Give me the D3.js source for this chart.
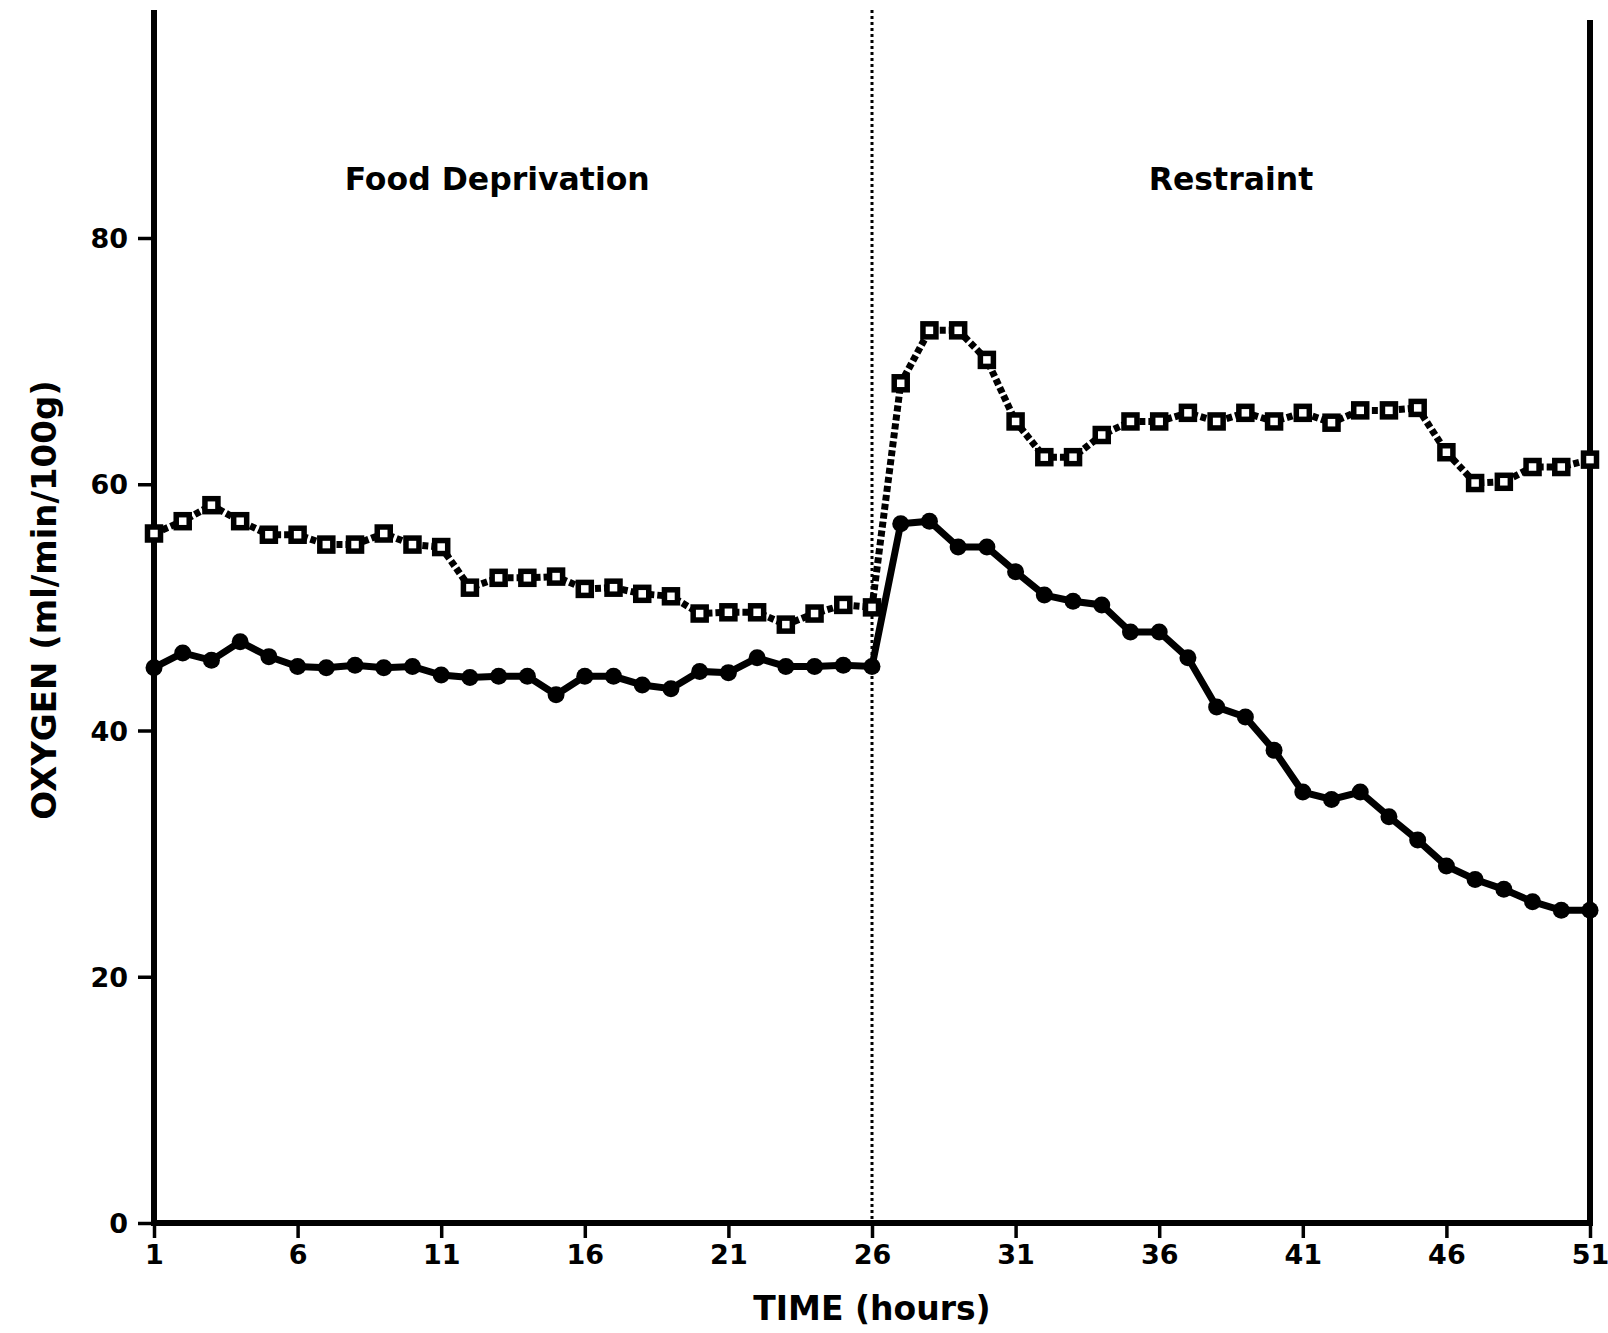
<!DOCTYPE html>
<html>
<head>
    <meta charset="utf-8">
    <script src="https://d3js.org/d3.v7.min.js"></script>
    <style>
        body { margin: 0; background: #fff; }
        text { font-family: "DejaVu Sans", sans-serif; font-weight: bold; fill: #000; }
    </style>
</head>
<body>
    <svg id="chart"></svg>
    <script>
        // hours 1..51
        var hours = d3.range(1, 52);

        // upper series (open squares, dotted line)
        var upperValues = [56.0, 57.0, 58.3, 57.0, 55.9, 55.9, 55.1, 55.1, 56.0, 55.1,
                           54.9, 51.6, 52.4, 52.4, 52.5, 51.5, 51.6, 51.1, 50.9, 49.5,
                           49.6, 49.6, 48.6, 49.5, 50.2, 50.0, 68.2, 72.5, 72.5, 70.1,
                           65.1, 62.2, 62.2, 64.0, 65.1, 65.1, 65.8, 65.1, 65.8, 65.1,
                           65.8, 65.0, 66.0, 66.0, 66.2, 62.6, 60.1, 60.2, 61.4, 61.4,
                           62.0];

        // lower series (filled circles, solid line)
        var lowerValues = [45.1, 46.3, 45.7, 47.2, 46.0, 45.2, 45.1, 45.3, 45.1, 45.2,
                           44.5, 44.3, 44.4, 44.4, 42.9, 44.4, 44.4, 43.7, 43.4, 44.8,
                           44.7, 45.9, 45.2, 45.2, 45.3, 45.2, 56.8, 57.0, 54.9, 54.9,
                           52.9, 51.0, 50.5, 50.2, 48.0, 48.0, 45.9, 41.9, 41.1, 38.4,
                           35.0, 34.4, 35.0, 33.0, 31.1, 29.0, 27.9, 27.1, 26.1, 25.4,
                           25.4];

        var xTicks = [1, 6, 11, 16, 21, 26, 31, 36, 41, 46, 51];
        var yTicks = [0, 20, 40, 60, 80];
        var phaseLabels = [{ text: "Food Deprivation", at: 12.95 }, { text: "Restraint", at: 38.5 }];
        var switchHour = 26;

        var W = 1608, H = 1333;
        var svg = d3.select("#chart").attr("width", W).attr("height", H);

        var x = d3.scaleLinear().domain([1, 51]).range([154, 1590]);
        var y = d3.scaleLinear().domain([0, 80]).range([1223, 238]);
        var topY = 10;

        // x axis
        var xAxis = svg.append("g")
            .attr("transform", "translate(0," + y(0) + ")")
            .call(d3.axisBottom(x).tickValues(xTicks).tickSize(15).tickPadding(7).tickFormat(d3.format("d")));
        xAxis.select(".domain").remove();
        xAxis.selectAll(".tick line").attr("stroke", "#000").attr("stroke-width", 3.5);
        xAxis.selectAll(".tick text").style("font-size", "27px");

        // y axis
        var yAxis = svg.append("g")
            .attr("transform", "translate(" + x(1) + ",0)")
            .call(d3.axisLeft(y).tickValues(yTicks).tickSize(16).tickPadding(10));
        yAxis.select(".domain").remove();
        yAxis.selectAll(".tick line").attr("stroke", "#000").attr("stroke-width", 3.5);
        yAxis.selectAll(".tick text").style("font-size", "27px").attr("dy", "0.36em");

        // frame lines
        svg.append("line").attr("x1", x(1) - 2).attr("x2", x(51) + 2).attr("y1", y(0)).attr("y2", y(0))
            .attr("stroke", "#000").attr("stroke-width", 6);
        svg.append("line").attr("x1", x(1)).attr("x2", x(1)).attr("y1", topY).attr("y2", y(0) + 3)
            .attr("stroke", "#000").attr("stroke-width", 6);
        svg.append("line").attr("x1", x(51)).attr("x2", x(51)).attr("y1", topY + 10).attr("y2", y(0) + 3)
            .attr("stroke", "#000").attr("stroke-width", 6);

        // phase divider
        svg.append("line").attr("x1", x(switchHour)).attr("x2", x(switchHour)).attr("y1", topY).attr("y2", y(0))
            .attr("stroke", "#000").attr("stroke-width", 3).attr("stroke-dasharray", "3,3");

        svg.selectAll(".phase")
            .data(phaseLabels)
            .join("text")
            .attr("x", d => x(d.at))
            .attr("y", 190)
            .attr("text-anchor", "middle")
            .style("font-size", "31.5px")
            .text(d => d.text);

        var line = d3.line().x((d, i) => x(hours[i])).y(d => y(d));

        // upper series
        svg.append("path").datum(upperValues)
            .attr("d", line).attr("fill", "none").attr("stroke", "#000")
            .attr("stroke-width", 7).attr("stroke-dasharray", "6,3");
        svg.append("g").selectAll("rect")
            .data(upperValues)
            .join("rect")
            .attr("x", (d, i) => x(hours[i]) - 6.5)
            .attr("y", d => y(d) - 6.5)
            .attr("width", 13).attr("height", 13)
            .attr("fill", "#fff").attr("stroke", "#000").attr("stroke-width", 5.5);

        // lower series
        svg.append("path").datum(lowerValues)
            .attr("d", line).attr("fill", "none").attr("stroke", "#000").attr("stroke-width", 7);
        svg.append("g").selectAll("circle")
            .data(lowerValues)
            .join("circle")
            .attr("cx", (d, i) => x(hours[i]))
            .attr("cy", d => y(d))
            .attr("r", 8.5)
            .attr("fill", "#000");

        // axis titles
        svg.append("text").attr("x", 872).attr("y", 1320).attr("text-anchor", "middle")
            .style("font-size", "33px").text("TIME (hours)");
        svg.append("text").attr("transform", "translate(56,600) rotate(-90)").attr("text-anchor", "middle")
            .style("font-size", "34px").text("OXYGEN (ml/min/100g)");
    </script>
</body>
</html>
